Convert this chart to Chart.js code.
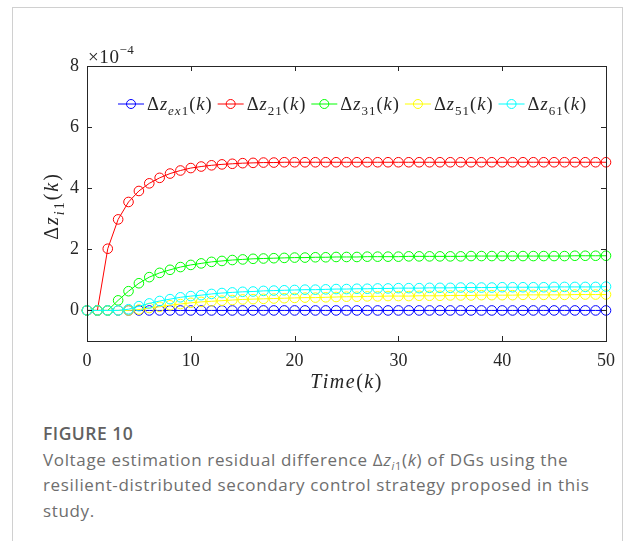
<!DOCTYPE html>
<html lang="en">
<head>
    <meta charset="UTF-8">
    <title>Figure 10</title>
    <script src="https://cdn.jsdelivr.net/npm/chart.js"></script>
    <style>
        body {
            margin: 0;
            background-color: white;
            width: 625px;
            height: 541px;
            overflow: hidden;
            position: relative;
        }
        .frame {
            position: absolute;
            left: 12px;
            top: 7px;
            width: 609px;
            height: 600px;
            border: 1.5px solid #d0d0d0;
        }
        #chartBox {
            position: absolute;
            left: 0;
            top: 0;
            width: 625px;
            height: 400px;
        }
        .caption {
            position: absolute;
            left: 43px;
            top: 421px;
            font-family: "Open Sans", sans-serif;
            color: #6e6e6e;
            font-size: 17px;
            letter-spacing: 0.65px;
            line-height: 25.5px;
            white-space: nowrap;
        }
        .caption .title {
            font-weight: 600;
            font-size: 17.5px;
            letter-spacing: 0.5px;
            color: #616161;
        }
        .caption .sub {
            font-size: 11px;
            position: relative;
            top: 4px;
            line-height: 0;
        }
    </style>
</head>
<body>
    <div class="frame"></div>
    <div id="chartBox"><canvas id="zChart" width="625" height="400"></canvas></div>
    <div class="caption">
        <div class="title">FIGURE 10</div>
        Voltage estimation residual difference Δ<i>z</i><span class="sub"><i>i</i>1</span>(<i>k</i>) of DGs using the<br>
        resilient-distributed secondary control strategy proposed in this<br>
        study.
    </div>

    <script>
        // time steps k = 0..50 and residuals in units of 1e-4
        const steps = [0,1,2,3,4,5,6,7,8,9,10,11,12,13,14,15,16,17,18,19,20,21,22,23,24,25,26,27,28,29,30,
            31,32,33,34,35,36,37,38,39,40,41,42,43,44,45,46,47,48,49,50];

        const dzEx1 = [0,0,0,0,0,0,0,0,0,0,0,0,0,0,0,0,0,0,0,0,0,0,0,0,0,0,0,0,0,0,0,
            0,0,0,0,0,0,0,0,0,0,0,0,0,0,0,0,0,0,0,0];
        const dz21 = [0,0,2.02,2.98,3.55,3.91,4.16,4.34,4.48,4.58,4.66,4.71,4.75,4.78,4.80,4.82,4.83,4.84,4.84,4.85,4.85,
            4.85,4.85,4.85,4.85,4.85,4.85,4.85,4.85,4.85,4.85,4.85,4.85,4.85,4.85,4.85,4.85,4.85,4.85,4.85,4.85,
            4.85,4.85,4.85,4.85,4.85,4.85,4.85,4.85,4.85,4.85];
        const dz31 = [0,0,0,0.33,0.63,0.89,1.09,1.23,1.33,1.42,1.49,1.54,1.59,1.62,1.65,1.67,1.69,1.70,1.71,1.72,1.73,
            1.73,1.74,1.74,1.75,1.75,1.75,1.76,1.76,1.76,1.76,1.77,1.77,1.77,1.77,1.77,1.77,1.78,1.78,1.78,1.78,
            1.78,1.78,1.78,1.78,1.78,1.78,1.79,1.79,1.79,1.79];
        const dz51 = [0,0,0,0,0,0.03,0.08,0.12,0.17,0.21,0.25,0.28,0.30,0.32,0.34,0.36,0.37,0.38,0.39,0.40,0.41,
            0.42,0.42,0.43,0.44,0.45,0.45,0.46,0.46,0.47,0.47,0.47,0.48,0.48,0.48,0.49,0.49,0.49,0.50,0.50,0.50,
            0.50,0.51,0.51,0.51,0.51,0.51,0.52,0.52,0.52,0.52];
        const dz61 = [0,0,0,0,0.04,0.14,0.23,0.31,0.37,0.43,0.47,0.50,0.54,0.57,0.59,0.61,0.62,0.64,0.65,0.66,0.67,
            0.68,0.68,0.69,0.70,0.70,0.71,0.71,0.72,0.72,0.73,0.73,0.73,0.74,0.74,0.74,0.75,0.75,0.75,0.75,0.76,
            0.76,0.76,0.76,0.76,0.77,0.77,0.77,0.77,0.77,0.78];

        const seriesSubs = ['ex1', '21', '31', '51', '61'];
        const seriesValues = [dzEx1, dz21, dz31, dz51, dz61];
        const seriesColors = ['#0000ff', '#ff0000', '#00ff00', '#ffff00', '#00ffff'];

        const xTicks = [0, 10, 20, 30, 40, 50];
        const yTicks = [0, 2, 4, 6, 8];

        const SERIF = '"Times New Roman", "Liberation Serif", serif';
        const AXIS_COLOR = '#262626';
        Chart.defaults.font.family = SERIF;

        // draw a run of text pieces: {t, it (italic), sub (subscript)}, sp = extra spacing per char
        function drawRich(ctx, parts, x, y, size, sp, measureOnly) {
            let w = 0;
            parts.forEach(p => {
                const fs = Math.round((p.sub ? size * 0.7 : size) * 10) / 10;
                ctx.font = (p.it ? 'italic ' : '') + fs + 'px ' + SERIF;
                const dy = p.sub ? size * 0.28 : 0;
                p.t.split('').forEach(c => {
                    if (!measureOnly) ctx.fillText(c, x + w, y + dy);
                    w += ctx.measureText(c).width + sp;
                });
            });
            return w;
        }

        function subParts(sub) {
            return sub.split('').map(c => ({ t: c, it: /[a-z]/.test(c), sub: true }));
        }

        function labelParts(sub) {
            return [{ t: 'Δ' }, { t: 'z', it: true }].concat(subParts(sub),
                [{ t: '(' }, { t: 'k', it: true }, { t: ')' }]);
        }

        const decorPlugin = {
            id: 'decor',
            afterDraw(chart) {
                const ctx = chart.ctx;
                const a = chart.chartArea;
                const xs = chart.scales.x, ys = chart.scales.y;
                ctx.save();
                ctx.strokeStyle = AXIS_COLOR;
                ctx.lineWidth = 1;
                ctx.strokeRect(a.left + 0.5, a.top + 0.5, a.right - a.left, a.bottom - a.top);

                // inward ticks on all four sides
                ctx.beginPath();
                xTicks.forEach(v => {
                    const px = Math.round(xs.getPixelForValue(v)) + 0.5;
                    ctx.moveTo(px, a.bottom); ctx.lineTo(px, a.bottom - 5);
                    ctx.moveTo(px, a.top); ctx.lineTo(px, a.top + 5);
                });
                yTicks.forEach(v => {
                    const py = Math.round(ys.getPixelForValue(v)) + 0.5;
                    ctx.moveTo(a.left, py); ctx.lineTo(a.left + 5, py);
                    ctx.moveTo(a.right, py); ctx.lineTo(a.right - 5, py);
                });
                ctx.stroke();

                ctx.fillStyle = AXIS_COLOR;
                ctx.textBaseline = 'alphabetic';
                ctx.textAlign = 'left';

                // exponent label
                const w10 = drawRich(ctx, [{ t: '×10' }], a.left + 1, a.top - 3, 19, 0.6);
                drawRich(ctx, [{ t: '−4' }], a.left + 1 + w10, a.top - 12, 13, 0.3);

                // x title
                const tParts = [{ t: 'Time', it: true }, { t: '(' }, { t: 'k', it: true }, { t: ')' }];
                const tw = drawRich(ctx, tParts, 0, 0, 20, 1.5, true);
                drawRich(ctx, tParts, (a.left + a.right) / 2 - tw / 2, 388, 20, 1.5);

                // y title, rotated
                const yParts = [{ t: 'Δ' }, { t: 'z', it: true }, { t: 'i', it: true, sub: true }, { t: '1', sub: true },
                    { t: '(' }, { t: 'k', it: true }, { t: ')' }];
                const yw = drawRich(ctx, yParts, 0, 0, 20, 2, true);
                ctx.save();
                ctx.translate(58, 206);
                ctx.rotate(-Math.PI / 2);
                drawRich(ctx, yParts, -yw / 2, 0, 20, 2);
                ctx.restore();

                // legend inside the axes
                let lx = a.left + 31;
                const ly = 104;
                chart.data.datasets.forEach((ds, i) => {
                    ctx.strokeStyle = ds.borderColor;
                    ctx.lineWidth = 1;
                    ctx.beginPath();
                    ctx.moveTo(lx, ly); ctx.lineTo(lx + 26, ly);
                    ctx.stroke();
                    ctx.beginPath();
                    ctx.arc(lx + 13, ly, 4.5, 0, Math.PI * 2);
                    ctx.stroke();
                    ctx.fillStyle = AXIS_COLOR;
                    const w = drawRich(ctx, labelParts(seriesSubs[i]), lx + 29, ly + 6, 18.5, 1.0);
                    lx += 29 + w + 5;
                });
                ctx.restore();
            }
        };

        const datasets = seriesValues.map((vals, i) => ({
            label: 'Δz' + seriesSubs[i] + '(k)',
            data: vals.map((v, j) => ({ x: steps[j], y: v })),
            borderColor: seriesColors[i],
            backgroundColor: 'transparent',
            borderWidth: 1,
            pointRadius: 4.8,
            pointBorderWidth: 1,
            pointBackgroundColor: 'transparent',
            pointBorderColor: seriesColors[i],
            tension: 0,
            clip: false,
            order: seriesValues.length - i
        }));

        const ctx = document.getElementById('zChart').getContext('2d');
        const chart = new Chart(ctx, {
            type: 'line',
            data: { datasets: datasets },
            options: {
                responsive: false,
                animation: false,
                layout: { padding: { top: 66, right: 19, left: 0, bottom: 0 } },
                plugins: {
                    legend: { display: false },
                    tooltip: { enabled: false }
                },
                scales: {
                    x: {
                        type: 'linear',
                        min: 0,
                        max: 50,
                        afterFit(scale) { scale.height = 59; },
                        afterBuildTicks(scale) { scale.ticks = xTicks.map(v => ({ value: v })); },
                        grid: { display: false, drawTicks: false },
                        border: { display: false },
                        ticks: {
                            padding: 9,
                            color: AXIS_COLOR,
                            font: { family: SERIF, size: 18 },
                            maxRotation: 0
                        }
                    },
                    y: {
                        min: -1,
                        max: 8,
                        afterFit(scale) { scale.width = 87; },
                        afterBuildTicks(scale) { scale.ticks = yTicks.map(v => ({ value: v })); },
                        grid: { display: false, drawTicks: false },
                        border: { display: false },
                        ticks: {
                            padding: 8,
                            color: AXIS_COLOR,
                            font: { family: SERIF, size: 18 }
                        }
                    }
                }
            },
            plugins: [decorPlugin]
        });
    </script>
</body>
</html>
